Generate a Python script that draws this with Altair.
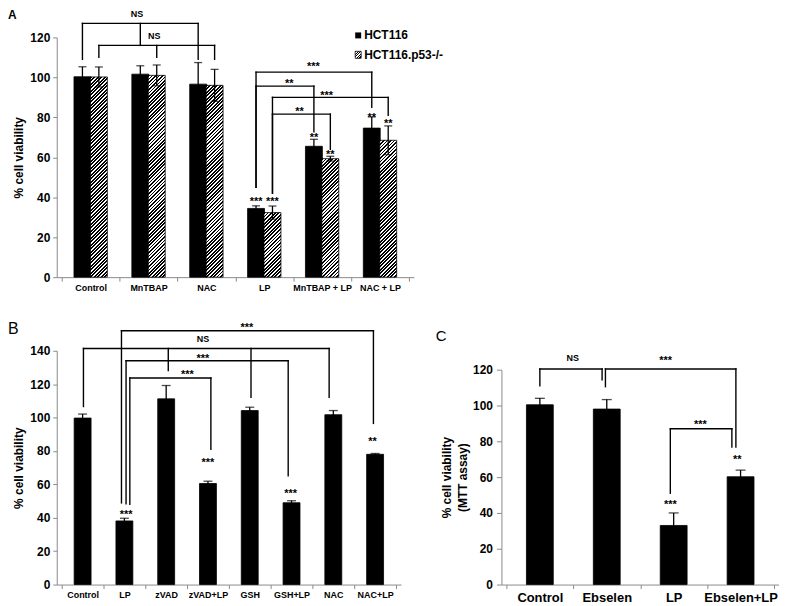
import altair as alt

FONT = "Liberation Sans"
GRAY = "#8a8a8a"

# ---------------- Panel A data ----------------
a_groups = ["Control", "MnTBAP", "NAC", "LP", "MnTBAP + LP", "NAC + LP"]
a_series = ["HCT116", "HCT116.p53-/-"]
a_hct116 = [100.3, 101.6, 96.6, 34.4, 65.5, 74.6]
a_hct116_err = [5.0, 4.2, 10.8, 1.3, 3.5, 5.6]
a_p53 = [100.2, 101.0, 96.0, 32.3, 59.3, 68.5]
a_p53_err = [5.0, 5.2, 8.0, 3.3, 1.2, 7.2]
# significance above bars: (group, series, text, y)
a_marks = [(3, 0, "***", 39.3), (3, 1, "***", 39.3), (4, 0, "**", 71.2),
           (4, 1, "**", 62.7), (5, 0, "**", 81.2), (5, 1, "**", 78.2)]
# brackets: (level, [(group, series, bottom), ...])
a_brackets = [
    (127.0, [(0, 0, 109), (1, 0, 116), (2, 0, 109)]),
    (116.0, [(0, 1, 110), (1, 1, 110), (2, 1, 109)]),
    (102.6, [(3, 0, 45), (5, 0, 85)]),
    (95.6, [(3, 0, 45), (4, 0, 72.7)]),
    (90.0, [(3, 1, 42), (5, 1, 81)]),
    (81.6, [(3, 1, 42), (4, 1, 64)]),
]
a_labels = [("NS", 0.80, 132.0), ("NS", 1.10, 120.9), ("***", 3.85, 106.8),
            ("**", 3.43, 98.3), ("***", 4.08, 92.4), ("**", 3.61, 84.2)]

# ---------------- Panel B data ----------------
b_groups = ["Control", "LP", "zVAD", "zVAD+LP", "GSH", "GSH+LP", "NAC", "NAC+LP"]
b_values = [99.7, 38.1, 111.2, 60.5, 104.2, 49.0, 101.7, 78.0]
b_err = [2.4, 1.6, 8.0, 1.4, 2.0, 1.2, 2.5, 0.5]
b_marks = [(1.04, "***", 43.7), (3.0, "***", 74.5), (4.98, "***", 56.2), (6.94, "**", 87.4)]
# brackets: (level, [(x, bottom), ...])
b_brackets = [
    (152.0, [(0.93, 48.9), (6.96, 96.5)]),
    (141.4, [(0.02, 106.6), (2.05, 128.1), (4.03, 112.2), (5.90, 112.2)]),
    (134.0, [(1.04, 48.3), (4.92, 65.1)]),
    (123.7, [(1.13, 48.0), (3.07, 81.0)]),
]
b_labels = [("***", 3.93, 155.3), ("NS", 2.88, 147.0), ("***", 2.88, 137.0), ("***", 2.51, 127.5)]

# ---------------- Panel C data ----------------
c_groups = ["Control", "Ebselen", "LP", "Ebselen+LP"]
c_values = [100.4, 98.0, 33.0, 60.2]
c_err = [3.6, 5.3, 7.0, 3.7]
c_marks = [(1.95, "***", 46.3), (2.95, "**", 71.3)]
c_brackets = [
    (120.4, [(0.0, 111.0), (0.93, 114.3)]),
    (120.4, [(0.98, 110.5), (2.93, 76.8)]),
    (87.0, [(1.95, 51.0), (2.87, 76.8)]),
]
c_labels = [("NS", 0.49, 126.5), ("***", 1.88, 126.5), ("***", 2.40, 91.1)]

# ---------------- layout constants ----------------
A_W, A_H, A_MAX = 359, 241, 120
B_W, B_H, B_MAX = 346, 235, 140
C_W, C_H, C_TOP = 279, 235, 19
OFF_A = 0.142


def hatch(w, h, period=3.5):
    """diagonal '/' stripes as a linear gradient in bounding-box units"""
    c = (w + h) / (w * w + h * h)
    n = max(1, round((w + h) / period))
    stops = []
    for k in range(n):
        a, b, e = k / n, (k + 0.5) / n, (k + 1) / n
        stops += [{"offset": round(a, 5), "color": "black"},
                  {"offset": round(b, 5), "color": "black"},
                  {"offset": round(b, 5), "color": "white"},
                  {"offset": round(e, 5), "color": "white"}]
    return {"gradient": "linear", "x1": 0, "y1": 0, "x2": c * w, "y2": c * h, "stops": stops}


def x_axis(names, fs, pad):
    n = len(names)
    vals = [i * 0.5 - 0.5 for i in range(2 * n + 1)]
    arr = "[" + ",".join("'%s'" % s for s in names) + "]"
    return alt.Axis(values=vals, title=None, grid=False,
                    labelExpr="datum.value % 1 === 0 ? " + arr + "[datum.value] : ''",
                    tickOpacity={"condition": {"test": "datum.value % 1 !== 0", "value": 1}, "value": 0},
                    labelFontSize=fs, labelFontWeight="bold", labelPadding=pad, labelColor="black",
                    labelOverlap=False, labelFlush=False, tickSize=4, tickColor=GRAY,
                    domainColor=GRAY, labelAngle=0)


def y_axis(maxv, title, tpad, lh=15, tsize=4, lpad=3):
    return alt.Axis(values=list(range(0, maxv + 1, 20)), title=title, grid=False,
                    labelFontSize=12, labelFontWeight="bold", labelColor="black",
                    labelPadding=lpad, tickSize=tsize, tickColor=GRAY, domainColor=GRAY,
                    titleFontSize=12, titleFontWeight="bold", titleColor="black",
                    titlePadding=tpad, titleLineHeight=lh)


def segments(brackets, posfn):
    segs = []
    for level, drops in brackets:
        xs = [posfn(d) for d in drops]
        segs.append({"x": min(xs), "x2": max(xs), "y": level, "y2": level})
        for d, x in zip(drops, xs):
            segs.append({"x": x, "x2": x, "y": level, "y2": d[-1]})
    return segs


def panel(rows, segs, labels, marks, xs, ys, xax, yax, bar_w, cap_w, letter, letter_xy, letter_fs,
          letter_bold=False, extra=()):
    d = alt.Data(values=rows)
    X = lambda f: alt.X(f, scale=xs, axis=xax, title=None)
    Y = lambda f: alt.Y(f, scale=ys, axis=yax)
    bars = alt.Chart(d).mark_bar(size=bar_w, stroke="black", strokeWidth=0.8).encode(
        x=X("pos:Q"), y=Y("value:Q"), fill=alt.Fill("fill:N", scale=None))
    err = alt.Chart(d).mark_rule(color="black", strokeWidth=1.3).encode(
        x=X("pos:Q"), y=Y("lo:Q"), y2="hi:Q")
    cap_hi = alt.Chart(d).mark_tick(orient="horizontal", size=cap_w, thickness=1.3, color="black").encode(
        x=X("pos:Q"), y=Y("hi:Q"))
    cap_lo = alt.Chart(d).mark_tick(orient="horizontal", size=cap_w, thickness=1.3, color="black").encode(
        x=X("pos:Q"), y=Y("lo:Q"))
    br = alt.Chart(alt.Data(values=segs)).mark_rule(color="black", strokeWidth=1.4, strokeCap="square").encode(
        x=X("x:Q"), x2="x2:Q", y=Y("y:Q"), y2="y2:Q")
    ns_rows = [{"t": t, "x": x, "y": y} for t, x, y in labels if t == "NS"]
    st_rows = [{"t": t, "x": x, "y": y} for t, x, y in labels if t != "NS"] + marks
    ns = alt.Chart(alt.Data(values=ns_rows)).mark_text(fontSize=9, fontWeight="bold", baseline="alphabetic", dy=3.2).encode(
        x=X("x:Q"), y=Y("y:Q"), text="t:N")
    st = alt.Chart(alt.Data(values=st_rows)).mark_text(fontSize=11, fontWeight="bold", baseline="alphabetic", dy=6.3).encode(
        x=X("x:Q"), y=Y("y:Q"), text="t:N")
    let = alt.Chart(alt.Data(values=[{"t": letter}])).mark_text(
        fontSize=letter_fs, align="left", baseline="top",
        fontWeight="bold" if letter_bold else "normal").encode(
        x=alt.value(letter_xy[0]), y=alt.value(letter_xy[1]), text="t:N")
    return alt.layer(bars, err, cap_hi, cap_lo, br, ns, st, let, *extra)


# ---------------- Panel A ----------------
A_PX = A_H / A_MAX
rows_a = []
for i, g in enumerate(a_groups):
    for s, (vals, errs) in enumerate([(a_hct116, a_hct116_err), (a_p53, a_p53_err)]):
        v, e = vals[i], errs[i]
        rows_a.append({"group": g, "series": a_series[s], "pos": i + (2 * s - 1) * OFF_A,
                       "value": v, "lo": v - e, "hi": v + e,
                       "fill": "black" if s == 0 else hatch(17, v * A_PX)})
segs_a = segments(a_brackets, lambda d: d[0] + (2 * d[1] - 1) * OFF_A)
marks_a = [{"t": t, "x": g + (2 * s - 1) * OFF_A, "y": y} for g, s, t, y in a_marks]
xs_a = alt.Scale(domain=[-0.5, len(a_groups) - 0.5], nice=False, zero=False)
ys_a = alt.Scale(domain=[0, A_MAX], nice=False)

leg_d = alt.Data(values=[{"t": a_series[0]}])
leg_d2 = alt.Data(values=[{"t": a_series[1]}])
leg = [
    alt.Chart(leg_d).mark_rect(fill="black").encode(
        x=alt.value(300), x2=alt.value(306), y=alt.value(-5), y2=alt.value(1)),
    alt.Chart(leg_d2).mark_rect(fill=hatch(6, 7, 2.8), stroke="black", strokeWidth=0.8).encode(
        x=alt.value(300), x2=alt.value(306), y=alt.value(14), y2=alt.value(21)),
    alt.Chart(leg_d).mark_text(align="left", baseline="middle", fontSize=12, fontWeight="bold").encode(
        x=alt.value(309), y=alt.value(-2), text="t:N"),
    alt.Chart(leg_d2).mark_text(align="left", baseline="middle", fontSize=12, fontWeight="bold").encode(
        x=alt.value(309), y=alt.value(18), text="t:N"),
]

panel_a = panel(rows_a, segs_a, a_labels, marks_a, xs_a, ys_a,
                x_axis(a_groups, 9, 2), y_axis(A_MAX, "% cell viability", 4),
                17, 8, "A", (-49, -27), 12, True, leg).properties(width=A_W, height=A_H)

# ---------------- Panel B ----------------
rows_b = [{"group": g, "pos": i, "value": v, "lo": v - e, "hi": v + e, "fill": "black"}
          for i, (g, v, e) in enumerate(zip(b_groups, b_values, b_err))]
segs_b = segments(b_brackets, lambda d: d[0])
marks_b = [{"t": t, "x": x, "y": y} for x, t, y in b_marks]
xs_b = alt.Scale(domain=[-0.5, len(b_groups) - 0.5], nice=False, zero=False)
ys_b = alt.Scale(domain=[0, B_MAX], nice=False)
panel_b = panel(rows_b, segs_b, b_labels, marks_b, xs_b, ys_b,
                x_axis(b_groups, 9, 2), y_axis(B_MAX, "% cell viability", 4),
                17, 9, "B", (-49, -30), 16).properties(width=B_W, height=B_H)

# ---------------- Panel C ----------------
rows_c = [{"group": g, "pos": i, "value": v, "lo": v - e, "hi": v + e, "fill": "black"}
          for i, (g, v, e) in enumerate(zip(c_groups, c_values, c_err))]
segs_c = segments(c_brackets, lambda d: d[0])
marks_c = [{"t": t, "x": x, "y": y} for x, t, y in c_marks]
xs_c = alt.Scale(domain=[-0.5, len(c_groups) - 0.5], nice=False, zero=False)
ys_c = alt.Scale(domain=[0, 120], nice=False, range=[C_H, C_TOP])
panel_c = panel(rows_c, segs_c, c_labels, marks_c, xs_c, ys_c,
                x_axis(c_groups, 13, 3), y_axis(120, ["% cell viability", "(MTT assay)"], 3, 16, 5, 4),
                27, 10, "C", (-66, -22), 15).properties(width=C_W, height=C_H)

bottom = alt.hconcat(panel_b, panel_c, spacing=101, bounds="flush")
chart = alt.vconcat(panel_a, bottom, spacing=74, bounds="flush").properties(
    padding=0
).configure(font=FONT).configure_view(stroke=None).configure_axis(
    labelFont=FONT, titleFont=FONT, domainWidth=1, tickWidth=1
).configure_text(font=FONT, color="black")

chart.save("out.html", embed_options={"renderer": "svg", "actions": False})
